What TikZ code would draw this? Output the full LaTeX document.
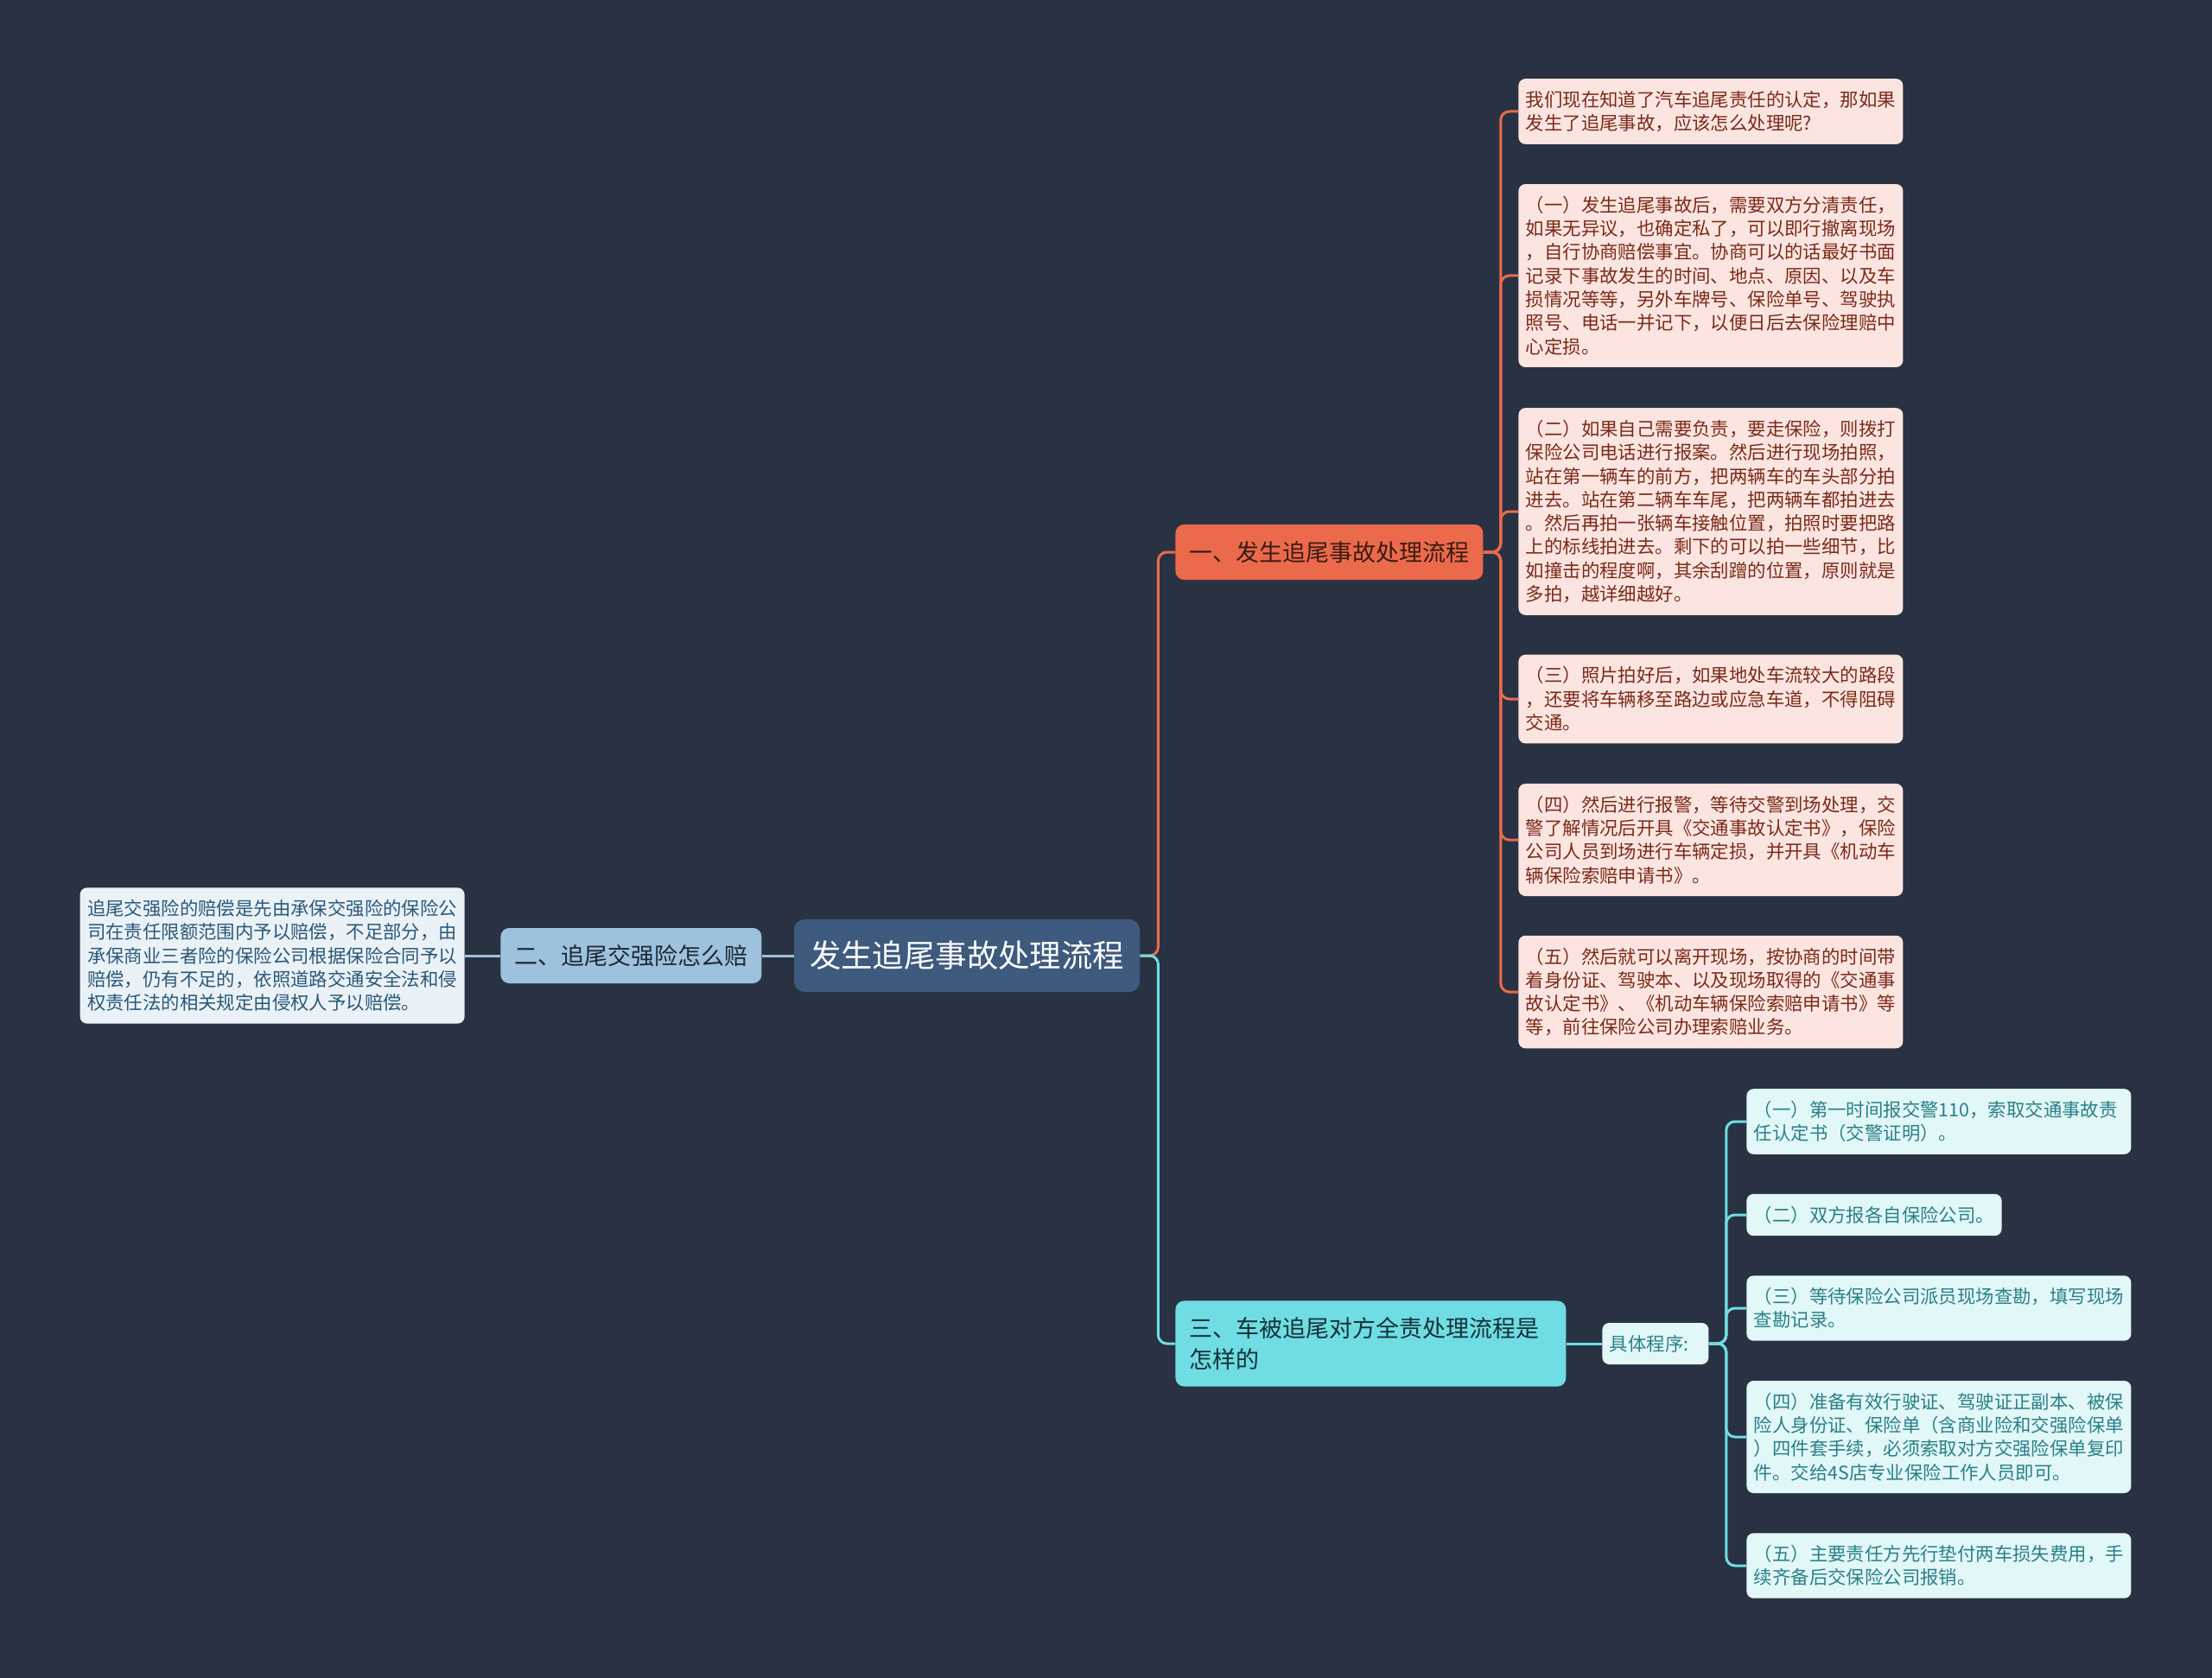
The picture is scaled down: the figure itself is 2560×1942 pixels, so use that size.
\documentclass[tikz,border=0pt]{standalone}
\usepackage{fontspec}
\setmainfont{Noto Sans CJK SC}
\usetikzlibrary{positioning, calc}
\definecolor{bgdark}{RGB}{41,50,66}
\definecolor{rootblue}{RGB}{62,90,126}
\definecolor{coral}{RGB}{235,106,76}
\definecolor{coraltext}{RGB}{58,26,18}
\definecolor{pinkfill}{RGB}{252,229,224}
\definecolor{pinktext}{RGB}{123,42,26}
\definecolor{skyblue}{RGB}{157,194,221}
\definecolor{navytext}{RGB}{28,40,54}
\definecolor{palefill}{RGB}{234,242,248}
\definecolor{paletext}{RGB}{43,88,120}
\definecolor{cyanfill}{RGB}{111,221,227}
\definecolor{cyantext}{RGB}{20,49,58}
\definecolor{cyanpale}{RGB}{226,247,248}
\definecolor{tealtext}{RGB}{42,128,136}

\begin{document}
\begin{tikzpicture}[x=0.5pt, y=-0.5pt,
  box/.style={rounded corners=4pt, align=left, inner xsep=4.25pt, inner ysep=7pt, font=\fontsize{10.7}{13.65}\selectfont},
  leaf/.style={box, text width=214pt, anchor=west},
  pinkleaf/.style={leaf, fill=pinkfill, text=pinktext},
  cyanleaf/.style={leaf, fill=cyanpale, text=tealtext},
  branch/.style={rounded corners=5pt, align=left, anchor=west, inner xsep=8pt, minimum height=32pt, font=\fontsize{13.5}{18}\selectfont},
  link/.style={line width=1.5pt, rounded corners=5pt}]

  \useasboundingbox[fill=bgdark] (0,0) rectangle (2560,1942);

  \node[rounded corners=6pt, fill=rootblue, text=white, inner xsep=9pt, minimum width=200pt, minimum height=42pt, font=\fontsize{18.2}{22}\selectfont] (root) at (1119,1106) {发生追尾事故处理流程};

  \node[branch, fill=coral, text=coraltext] (b1) at (1360,639) {一、发生追尾事故处理流程};
  \node[branch, fill=skyblue, text=navytext] (b2) at (579,1106) {二、追尾交强险怎么赔};
  \node[branch, fill=cyanfill, text=cyantext, text width=210pt, inner ysep=9.5pt] (b3) at (1360,1555) {三、车被追尾对方全责处理流程是\\怎样的};

  \node[box, anchor=east, text width=214pt, fill=palefill, text=paletext] (l1) at (538,1106) {追尾交强险的赔偿是先由承保交强险的保险公\\司在责任限额范围内予以赔偿，不足部分，由\\承保商业三者险的保险公司根据保险合同予以\\赔偿，仍有不足的，依照道路交通安全法和侵\\权责任法的相关规定由侵权人予以赔偿。};

  \node[pinkleaf] (p1) at (1757,129) {我们现在知道了汽车追尾责任的认定，那如果\\发生了追尾事故，应该怎么处理呢?};
  \node[pinkleaf] (p2) at (1757,319) {（一）发生追尾事故后，需要双方分清责任，\\如果无异议，也确定私了，可以即行撤离现场\\，自行协商赔偿事宜。协商可以的话最好书面\\记录下事故发生的时间、地点、原因、以及车\\损情况等等，另外车牌号、保险单号、驾驶执\\照号、电话一并记下，以便日后去保险理赔中\\心定损。};
  \node[pinkleaf] (p3) at (1757,592) {（二）如果自己需要负责，要走保险，则拨打\\保险公司电话进行报案。然后进行现场拍照，\\站在第一辆车的前方，把两辆车的车头部分拍\\进去。站在第二辆车车尾，把两辆车都拍进去\\。然后再拍一张辆车接触位置，拍照时要把路\\上的标线拍进去。剩下的可以拍一些细节，比\\如撞击的程度啊，其余刮蹭的位置，原则就是\\多拍，越详细越好。};
  \node[pinkleaf] (p4) at (1757,809) {（三）照片拍好后，如果地处车流较大的路段\\，还要将车辆移至路边或应急车道，不得阻碍\\交通。};
  \node[pinkleaf] (p5) at (1757,972) {（四）然后进行报警，等待交警到场处理，交\\警了解情况后开具《交通事故认定书》，保险\\公司人员到场进行车辆定损，并开具《机动车\\辆保险索赔申请书》。};
  \node[pinkleaf] (p6) at (1757,1148) {（五）然后就可以离开现场，按协商的时间带\\着身份证、驾驶本、以及现场取得的《交通事\\故认定书》、《机动车辆保险索赔申请书》等\\等，前往保险公司办理索赔业务。};

  \node[box, anchor=west, text width=53pt, inner ysep=5pt, minimum height=24pt, fill=cyanpale, text=tealtext] (steps) at (1854,1555) {具体程序:};

  \node[cyanleaf] (q1) at (2021,1298) {（一）第一时间报交警110，索取交通事故责\\任认定书（交警证明）。};
  \node[box, anchor=west, fill=cyanpale, text=tealtext] (q2) at (2021,1406) {（二）双方报各自保险公司。};
  \node[cyanleaf] (q3) at (2021,1514) {（三）等待保险公司派员现场查勘，填写现场\\查勘记录。};
  \node[cyanleaf] (q4) at (2021,1663) {（四）准备有效行驶证、驾驶证正副本、被保\\险人身份证、保险单（含商业险和交强险保单\\）四件套手续，必须索取对方交强险保单复印\\件。交给4S店专业保险工作人员即可。};
  \node[cyanleaf] (q5) at (2021,1812) {（五）主要责任方先行垫付两车损失费用，手\\续齐备后交保险公司报销。};

  \draw[link, skyblue] (root.west) -- (b2.east);
  \draw[link, skyblue] (b2.west) -- (l1.east);
  \draw[link, coral] (root.east) -- ++(21,0) |- (b1.west);
  \draw[link, cyanfill] (root.east) -- ++(21,0) |- (b3.west);
  \foreach \i in {1,...,6}
    \draw[link, coral] (b1.east) -- ++(20,0) |- (p\i.west);
  \draw[link, cyanfill] (b3.east) -- (steps.west);
  \foreach \i in {1,...,5}
    \draw[link, cyanfill] (steps.east) -- ++(20,0) |- (q\i.west);

\end{tikzpicture}
\end{document}
